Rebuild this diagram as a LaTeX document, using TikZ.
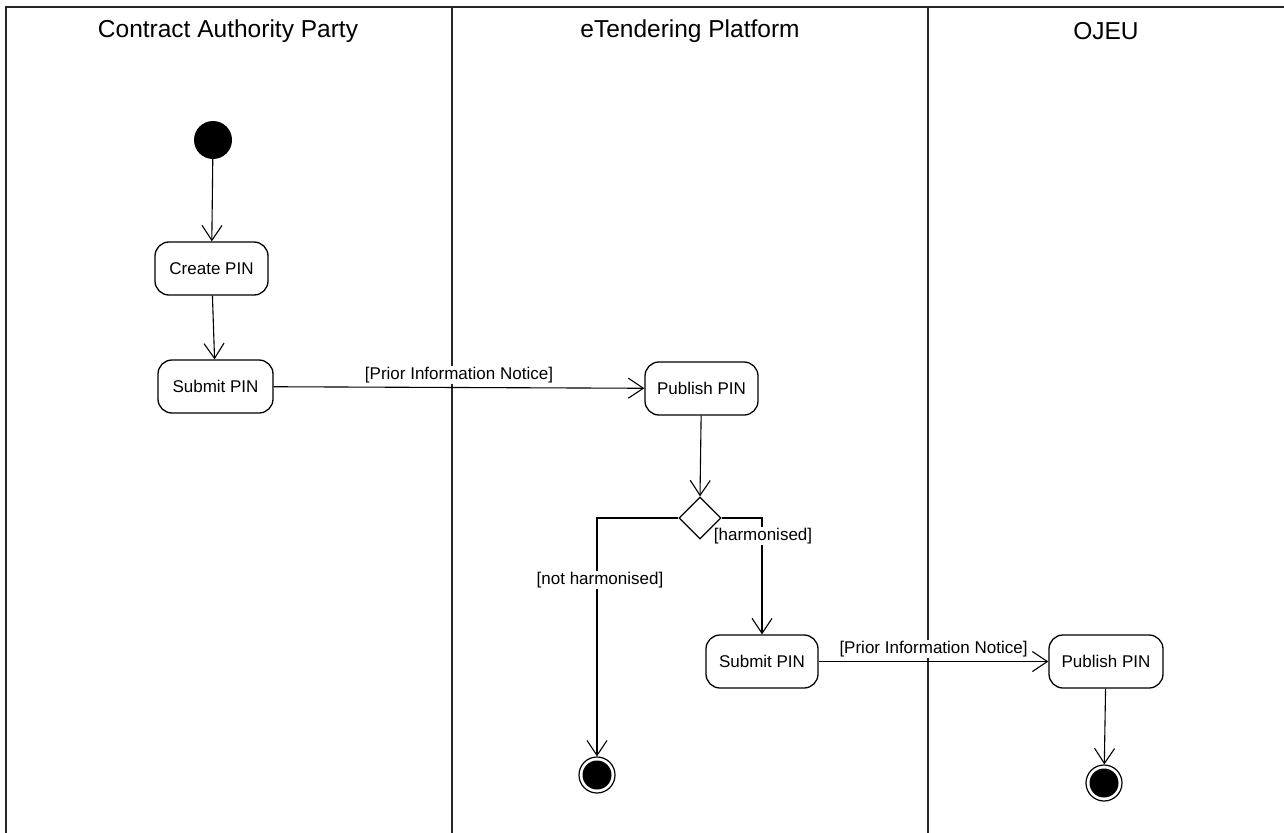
\documentclass[tikz,border=0pt]{standalone}
\usepackage{fontspec}
\setmainfont{Liberation Sans}
\usetikzlibrary{arrows.meta,shapes.geometric}
\begin{document}
\begin{tikzpicture}[x=1pt,y=-1pt,
  lane/.style={line width=1.5pt,draw=black!85},
  lanetitle/.style={font=\fontsize{24.5}{28}\selectfont,inner sep=0pt},
  action/.style={draw,rounded corners=14pt,line width=1.3pt,minimum height=53pt,
    inner sep=2pt,font=\fontsize{17}{20}\selectfont},
  startnode/.style={circle,fill=black,minimum size=38pt,inner sep=0pt},
  endnode/.style={circle,draw,line width=1.2pt,minimum size=36pt,inner sep=0pt,
    path picture={\fill (path picture bounding box.center) circle (14.5pt);}},
  decision/.style={diamond,draw,line width=1.3pt,minimum width=42pt,minimum height=42pt,
    inner sep=0pt,shape aspect=1},
  flow/.style={line width=1.1pt,-{Straight Barb[length=15pt,width=20pt,line width=1.1pt]}},
  guard/.style={fill=white,inner sep=1pt,font=\fontsize{17}{20}\selectfont}]

\useasboundingbox (0,0) rectangle (1284,832);

% swimlane frame and dividers
\draw[lane] (6,840) -- (6,7) -- (1290,7);
\draw[lane] (452,7) -- (452,840);
\draw[lane] (928,7) -- (928,840);

\node[lanetitle] (t1) at (228,31) {Contract Authority Party};
\node[lanetitle] (t2) at (690,31) {eTendering Platform};
\node[lanetitle] (t3) at (1106,31) {OJEU};

% activity nodes
\node[startnode] (init) at (213,140) {};
\node[action,minimum width=113pt] (create) at (211.5,268.5) {Create PIN};
\node[action,minimum width=115pt] (sub1) at (215.5,386.5) {Submit PIN};
\node[action,minimum width=113pt] (pub1) at (701.5,388.5) {Publish PIN};
\node[decision] (dec) at (700,518) {};
\node[action,minimum width=112pt] (sub2) at (762,661.5) {Submit PIN};
\node[action,minimum width=114pt] (pub2) at (1106,661.5) {Publish PIN};
\node[endnode] (fin1) at (597,775) {};
\node[endnode] (fin2) at (1104,783) {};

% control flows
\draw[flow] (init) -- (create);
\draw[flow] (create) -- (sub1);
\draw[flow] (sub1) -- node[guard,above=3pt] (g1) {[Prior Information Notice]} (pub1);
\draw[flow] (pub1) -- (dec.north);
\draw[flow] (dec.west) -| (fin1);
\draw[flow] (dec.east) -| (sub2);
\draw[flow] (sub2) -- node[guard,above=3pt] (g4) {[Prior Information Notice]} (pub2);
\draw[flow] (pub2) -- (fin2);

% guards on the decision branches
\node[guard] (g2) at (600,580) {[not harmonised]};
\node[guard] (g3) at (763,536) {[harmonised]};
\end{tikzpicture}
\end{document}
